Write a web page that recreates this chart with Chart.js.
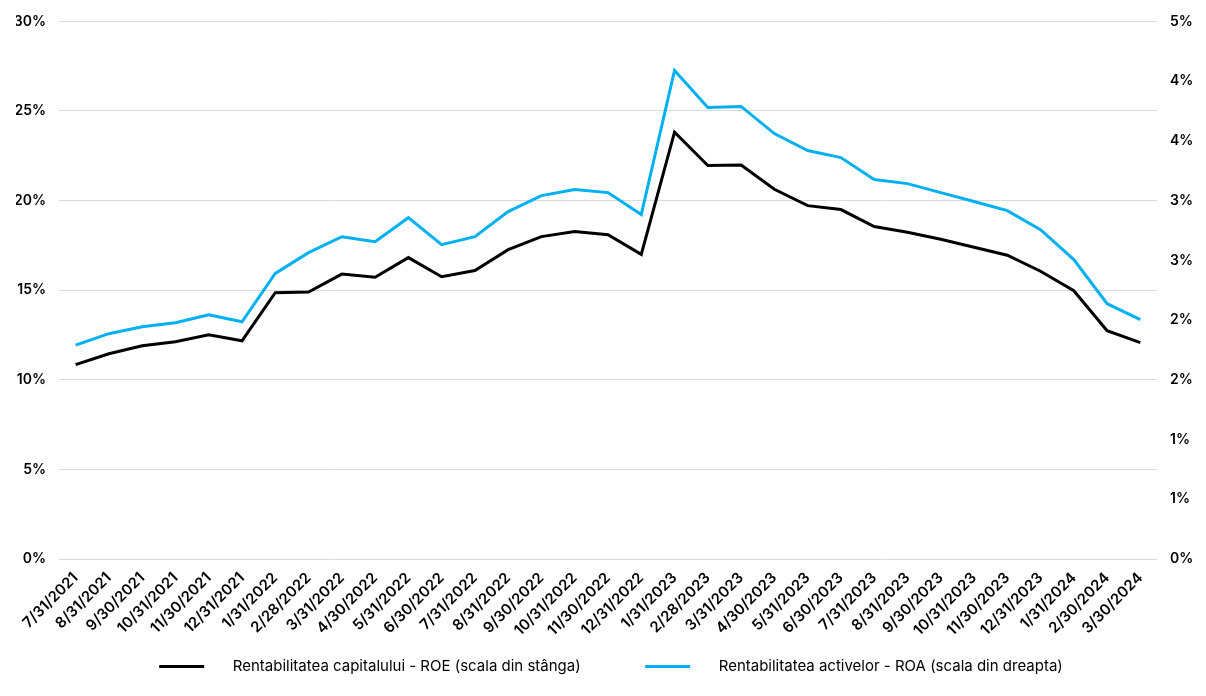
<!DOCTYPE html>
<html>
<head>
<meta charset="utf-8">
<script src="https://cdn.jsdelivr.net/npm/chart.js@4"></script>
<style>
  html, body { margin: 0; padding: 0; background: #fff; }
  #wrap { width: 1206px; height: 696px; }
</style>
</head>
<body>
<div id="wrap"><canvas id="chart" width="1206" height="696"></canvas></div>
<script>
const labels = [
  "7/31/2021", "8/31/2021", "9/30/2021", "10/31/2021", "11/30/2021", "12/31/2021",
  "1/31/2022", "2/28/2022", "3/31/2022", "4/30/2022", "5/31/2022", "6/30/2022",
  "7/31/2022", "8/31/2022", "9/30/2022", "10/31/2022", "11/30/2022", "12/31/2022",
  "1/31/2023", "2/28/2023", "3/31/2023", "4/30/2023", "5/31/2023", "6/30/2023",
  "7/31/2023", "8/31/2023", "9/30/2023", "10/31/2023", "11/30/2023", "12/31/2023",
  "1/31/2024", "2/30/2024", "3/30/2024"
];

// ROE, % (scala din stanga)
const roe = [
  10.85, 11.45, 11.9, 12.12, 12.51, 12.18,
  14.86, 14.9, 15.9, 15.72, 16.82, 15.75,
  16.1, 17.26, 17.99, 18.27, 18.1, 17.0,
  23.82, 21.96, 21.98, 20.63, 19.72, 19.5,
  18.55, 18.23, 17.84, 17.4, 16.95, 16.06,
  14.97, 12.74, 12.07
];

// ROA, % (scala din dreapta)
const roa = [
  1.79, 1.886, 1.944, 1.978, 2.045, 1.986,
  2.39, 2.564, 2.698, 2.656, 2.857, 2.631,
  2.698, 2.908, 3.042, 3.092, 3.067, 2.883,
  4.089, 3.779, 3.788, 3.561, 3.419, 3.36,
  3.176, 3.142, 3.067, 2.992, 2.916, 2.757,
  2.506, 2.137, 2.003
];

const leftTicks = { min: 0, max: 30, step: 5 };
const rightTicks = { min: 0, max: 4.5, step: 0.5 };

const FONT = "Inter, 'Noto Sans', sans-serif";

const ctx = document.getElementById("chart").getContext("2d");
new Chart(ctx, {
  type: "line",
  data: {
    labels: labels,
    datasets: [
      {
        label: "Rentabilitatea capitalului - ROE (scala din stânga)",
        data: roe,
        yAxisID: "y",
        borderColor: "#000000",
        backgroundColor: "#000000",
        borderWidth: 3,
        pointRadius: 0,
        tension: 0
      },
      {
        label: "Rentabilitatea activelor - ROA (scala din dreapta)",
        data: roa,
        yAxisID: "y1",
        borderColor: "#00b0f0",
        backgroundColor: "#00b0f0",
        borderWidth: 3,
        pointRadius: 0,
        tension: 0
      }
    ]
  },
  options: {
    responsive: false,
    animation: false,
    layout: { padding: { left: 16, right: 0, top: 12, bottom: 12 } },
    plugins: {
      tooltip: { enabled: false },
      legend: {
        position: "bottom",
        labels: {
          color: "#000",
          font: { family: FONT, size: 15 },
          boxWidth: 45,
          boxHeight: 3,
          padding: 18,
          generateLabels: (chart) => {
            const items = Chart.defaults.plugins.legend.labels.generateLabels(chart);
            items.forEach((it, i) => {
              it.text = "     " + it.text + (i === 0 ? "           " : "");
              it.lineWidth = 0;
            });
            return items;
          }
        }
      }
    },
    scales: {
      x: {
        offset: true,
        grid: { display: false },
        border: { display: false },
        afterFit: (s) => { s.paddingLeft = 0; s.paddingRight = 0; s.height = 82; },
        ticks: {
          color: "#000",
          font: { family: FONT, size: 15, weight: "600" },
          maxRotation: 45,
          minRotation: 45,
          autoSkip: false,
          padding: 2
        }
      },
      y: {
        position: "left",
        min: leftTicks.min,
        max: leftTicks.max,
        afterFit: (s) => { s.width = 43; },
        grid: { color: "#d9d9d9", lineWidth: 1, drawTicks: false },
        border: { display: false },
        ticks: {
          stepSize: leftTicks.step,
          color: "#000",
          padding: 13,
          font: { family: FONT, size: 14, weight: "600" },
          callback: v => v + "%"
        }
      },
      y1: {
        position: "right",
        min: rightTicks.min,
        max: rightTicks.max,
        afterFit: (s) => { s.width = 49; },
        grid: { display: false, drawTicks: false },
        border: { display: false },
        ticks: {
          stepSize: rightTicks.step,
          color: "#000",
          padding: 13,
          font: { family: FONT, size: 14, weight: "600" },
          callback: v => Math.round(v) + "%"
        }
      }
    }
  }
});
</script>
</body>
</html>
